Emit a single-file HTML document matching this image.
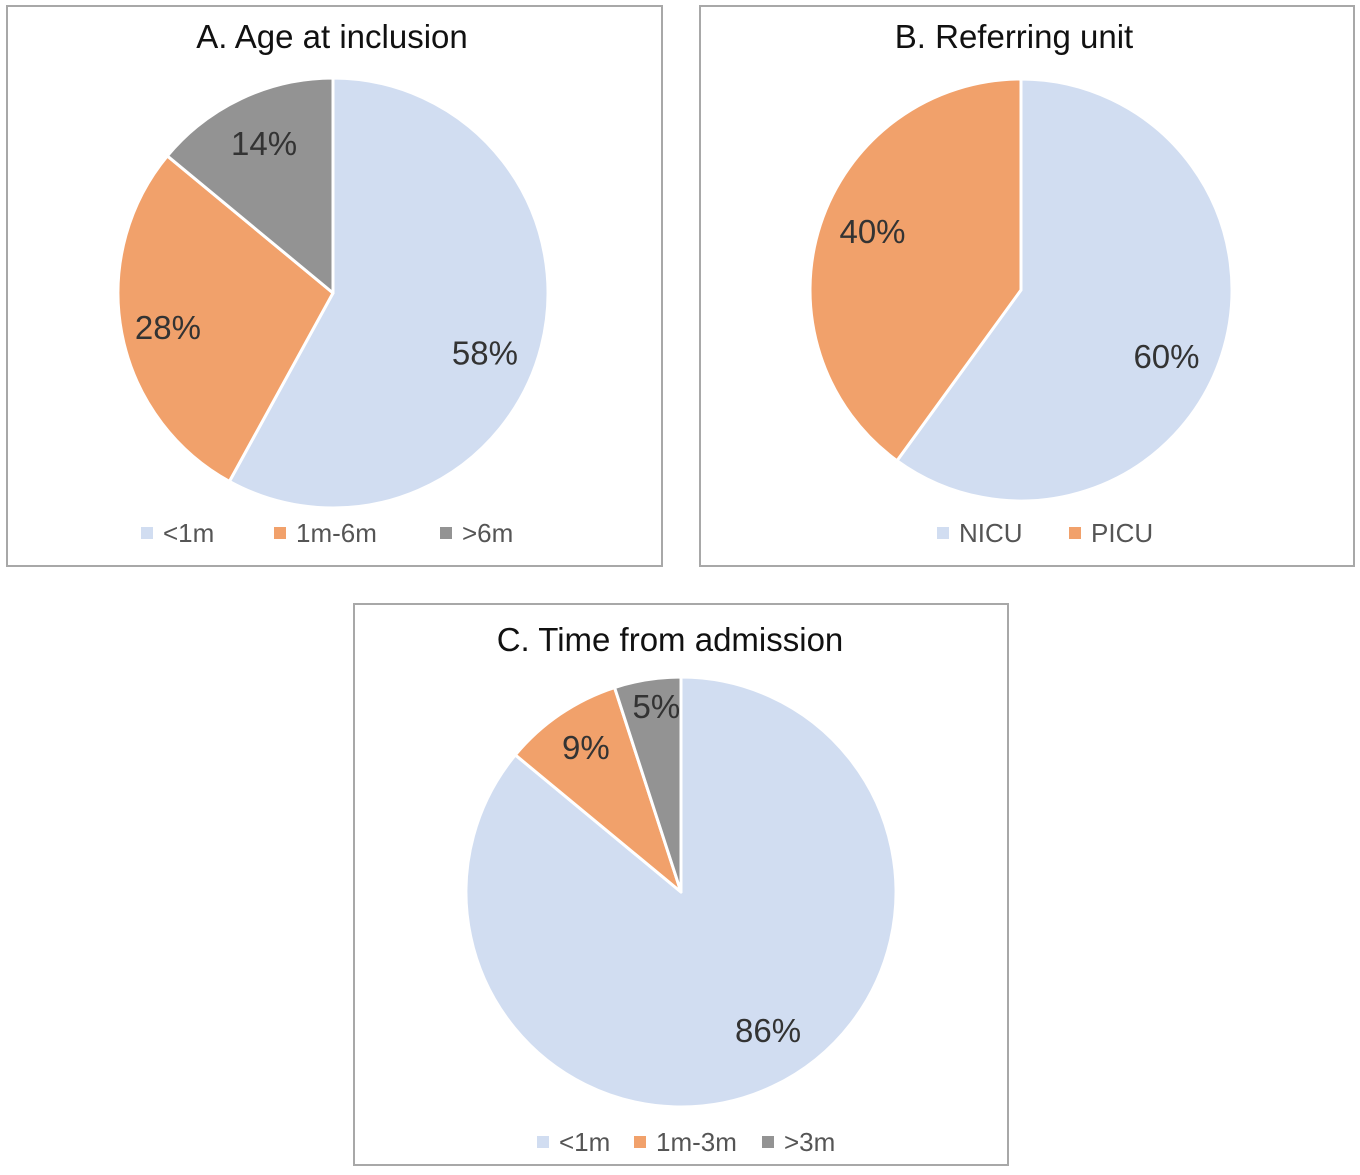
<!DOCTYPE html>
<html><head><meta charset="utf-8">
<style>
body{margin:0;background:#fff;width:1360px;height:1175px;overflow:hidden;font-family:"Liberation Sans",sans-serif;}
.panel{position:absolute;border:2px solid #a8a8a8;box-sizing:border-box;background:#fff;}
</style></head>
<body>
<div class="panel" style="left:6px;top:5px;width:657px;height:562px"></div>
<div class="panel" style="left:699px;top:5px;width:656px;height:562px"></div>
<div class="panel" style="left:353px;top:603px;width:656px;height:563px"></div>
<svg id="chart" width="1360" height="1175" style="position:absolute;left:0;top:0"></svg>
<script>
const titles = ["A. Age at inclusion","B. Referring unit","C. Time from admission"];
const catsA = ["<1m","1m-6m",">6m"];
const valsA = [58,28,14];
const catsB = ["NICU","PICU"];
const valsB = [60,40];
const catsC = ["<1m","1m-3m",">3m"];
const valsC = [86,9,5];
const colors = ["#d1ddf1","#f1a16b","#939393"];
const NS="http://www.w3.org/2000/svg";
const svg=document.getElementById('chart');
function mk(t,a){const e=document.createElementNS(NS,t);for(const k in a)e.setAttribute(k,a[k]);svg.appendChild(e);return e;}
const layouts=[
 {cx:333,cy:293,r:215,tx:332,ty:48,ly:533,lx:[141,274,440]},
 {cx:1021,cy:290,r:211,tx:1014,ty:48,ly:533,lx:[937,1069]},
 {cx:681,cy:892,r:215,tx:670,ty:651,ly:1142,lx:[537,634,762]}
];
const labelR=[[0.72,0.72,0.72],[0.72,0.72],[0.7,0.68,0.88]];
const nudge=[[[2,21],[-13,5],[-3,-10]],[[1,19],[-4,-12]],[[23,2],[-13,-24],[5,1]]];
[[catsA,valsA],[catsB,valsB],[catsC,valsC]].forEach(([cats,vals],pi)=>{
 const L=layouts[pi];
 const tot=vals.reduce((a,b)=>a+b,0);
 const t=mk('text',{x:L.tx,y:L.ty,'text-anchor':'middle','font-size':33,fill:'#111'});
 t.textContent=titles[pi];
 
 
 let a0=0;
 vals.forEach((v,i)=>{
  const a1=a0+v/tot*2*Math.PI;
  const x0=L.cx+L.r*Math.sin(a0),y0=L.cy-L.r*Math.cos(a0);
  const x1=L.cx+L.r*Math.sin(a1),y1=L.cy-L.r*Math.cos(a1);
  const large=(a1-a0)>Math.PI?1:0;
  const p=mk('path',{d:`M${L.cx},${L.cy}L${x0},${y0}A${L.r},${L.r} 0 ${large} 1 ${x1},${y1}Z`,fill:colors[i],stroke:'#fff','stroke-width':3,'stroke-linejoin':'round'});
  
  
  const m=(a0+a1)/2, lr=L.r*labelR[pi][i];
  const n=nudge[pi][i]||[0,0];
  const lt=mk('text',{x:L.cx+lr*Math.sin(m)+n[0],y:L.cy-lr*Math.cos(m)+12+n[1],'text-anchor':'middle','font-size':33,fill:'#333'});
  lt.textContent=v+'%';
  
  
  a0=a1;
 });
 cats.forEach((c,i)=>{
  const r=mk('rect',{x:L.lx[i],y:L.ly-6,width:12,height:12,fill:colors[i]});
  
  
  const lt=mk('text',{x:L.lx[i]+22,y:L.ly+9,'font-size':26,fill:'#555'});
  lt.textContent=c;
  
  
 });
});
</script>
</body></html>
